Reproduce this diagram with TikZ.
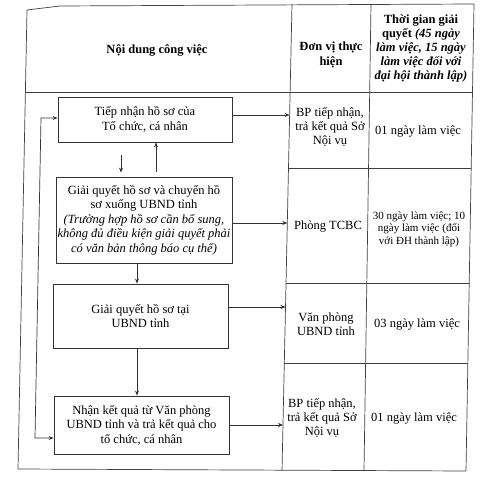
\documentclass[tikz,border=0pt]{standalone}
\usepackage{fontspec}
\setmainfont{Liberation Serif}
\usetikzlibrary{arrows.meta}
\begin{document}
\begin{tikzpicture}[x=1pt,y=-1pt,
  tline/.style={draw=black!75,line width=0.7pt},
  box/.style={draw=black!80,line width=0.85pt,align=center,inner sep=0pt,font=\fontsize{12.5}{14.5}\selectfont},
  txt/.style={align=center,inner sep=0pt,font=\fontsize{12.5}{14.5}\selectfont},
  arr/.style={draw=black!80,line width=0.7pt,-{Stealth[length=5pt,width=4pt]}},
  darr/.style={draw=black!80,line width=0.7pt,{Stealth[length=5pt,width=4pt]}-{Stealth[length=5pt,width=4pt]}},
]
\useasboundingbox (0,0) rectangle (482,478);
% table frame
\coordinate (TL) at (27,10);
\coordinate (TM) at (60,6);
\coordinate (TR) at (474,4);
\coordinate (BL) at (18,469);
\coordinate (BR) at (466,471);
\draw[tline] (TL) -- (TM) -- (TR) -- (BR) -- (BL) -- cycle;
% header line
\coordinate (H1) at (25.4,92);
\coordinate (H2) at (472.5,92);
\draw[tline] (H1) -- (H2);
% column dividers
\coordinate (C1t) at (292,4);
\coordinate (C1b) at (282,471);
\coordinate (C2t) at (371,4);
\coordinate (C2b) at (364,471);
\draw[tline] (C1t) -- (C1b);
\draw[tline] (C2t) -- (C2b);
% row dividers
\coordinate (R1a) at (288.5,168);
\coordinate (R1b) at (471.2,168);
\coordinate (R2a) at (286,283);
\coordinate (R2b) at (469.2,283);
\coordinate (R3a) at (284.3,363);
\coordinate (R3b) at (467.8,363);
\draw[tline] (R1a) -- (R1b);
\draw[tline] (R2a) -- (R2b);
\draw[tline] (R3a) -- (R3b);

% header texts
\node[txt,font=\fontsize{12.5}{14.5}\selectfont\bfseries] (h1) at (157,50) {Nội dung công việc};
\node[txt,font=\fontsize{12.5}{14.5}\selectfont\bfseries] (h2) at (331,55) {Đơn vị thực\\hiện};
\node[txt,font=\fontsize{12.5}{14}\selectfont\bfseries] (h3) at (421,48.5) {Thời gian giải\\quyết \textit{(45 ngày}\\\textit{làm việc, 15 ngày}\\\textit{làm việc đối với}\\\textit{đại hội thành lập)}};

% flow boxes
\node[box,minimum width=174pt,minimum height=45pt] (b1) at (145,119.5) {Tiếp nhận hồ sơ của\\Tổ chức, cá nhân};
\node[box,minimum width=176pt,minimum height=86pt] (b2) at (144,220) {Giải quyết hồ sơ và chuyển hồ\\sơ xuống UBND tỉnh\\\textit{(Trường hợp hồ sơ cần bổ sung,}\\\textit{không đủ điều kiện giải quyết phải}\\\textit{có văn bản thông báo cụ thể)}};
\node[box,minimum width=175pt,minimum height=64pt] (b3) at (140.5,316) {Giải quyết hồ sơ tại\\UBND tỉnh};
\node[box,minimum width=175pt,minimum height=58pt] (b4) at (141.5,425) {Nhận kết quả từ Văn phòng\\UBND tỉnh và trả kết quả cho\\tổ chức, cá nhân};

% unit column
\node[txt,font=\fontsize{12.5}{14}\selectfont] (u1) at (330,127) {BP tiếp nhận,\\trả kết quả Sở\\Nội vụ};
\node[txt] (u2) at (328,227) {Phòng TCBC};
\node[txt,font=\fontsize{12.5}{14}\selectfont] (u3) at (326,324) {Văn phòng\\UBND tỉnh};
\node[txt,font=\fontsize{12.5}{14}\selectfont] (u4) at (322,418) {BP tiếp nhận,\\trả kết quả Sở\\Nội vụ};

% time column
\node[txt] (t1) at (418,132) {01 ngày làm việc};
\node[txt,font=\fontsize{11}{12.5}\selectfont] (t2) at (419,229) {30 ngày làm việc; 10\\ngày làm việc (đối\\với ĐH thành lập)};
\node[txt] (t3) at (417,325) {03 ngày làm việc};
\node[txt] (t4) at (414,418) {01 ngày làm việc};

% right arrows to unit column
\coordinate (r1) at (289.6,115);
\coordinate (r2) at (287.3,223);
\coordinate (r3) at (285.5,307);
\coordinate (r4) at (283,425);
\draw[arr] (b1.east |- r1) -- (r1);
\draw[arr] (b2.east |- r2) -- (r2);
\draw[arr] (b3.east |- r3) -- (r3);
\draw[arr] (b4.east |- r4) -- (r4);

% vertical arrows between boxes
\draw[arr] ([xshift=-24pt,yshift=-13pt]b1.south) -- ([xshift=-23pt,yshift=4pt]b2.north);
\draw[arr] ([xshift=12pt,yshift=5pt]b2.north) -- ([xshift=11pt]b1.south);
\draw[arr] ([xshift=-7pt]b2.south) -- ([xshift=-7pt]b2.south |- b3.north);
\draw[arr] ([xshift=-3.5pt]b3.south) -- ([xshift=-3.5pt]b3.south |- b4.north);

% return loop
\coordinate (L1) at (41,118);
\coordinate (L2) at (35,438);
\draw[darr] (b1.west |- L1) -- (L1) -- (L2) -- (b4.west |- L2);
\end{tikzpicture}
\end{document}
